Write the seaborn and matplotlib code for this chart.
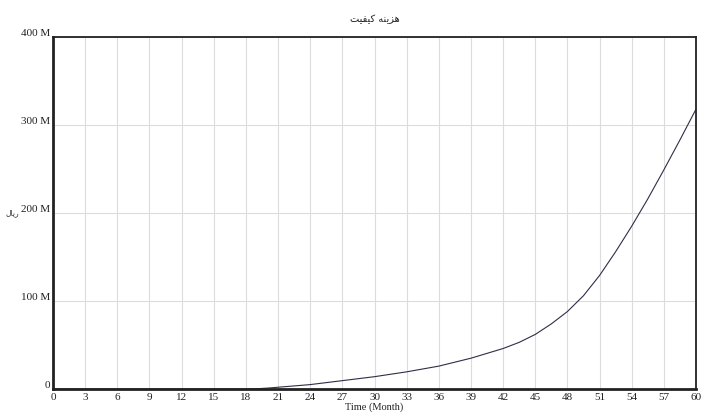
import matplotlib
matplotlib.use("Agg")
import matplotlib.pyplot as plt
import matplotlib.transforms as mtransforms
import seaborn as sns
import pandas as pd

# Simulation output: cost of quality (Rial) over time (months)
months = [0, 3, 6, 9, 12, 15, 18, 19, 20, 21, 24, 27, 30, 33, 36, 39, 42, 43.5, 45,
          46.5, 48, 49.5, 51, 52.5, 54, 55.5, 57, 58.5, 60]
cost_millions = [0, 0, 0, 0, 0, 0, 0, 0.3, 1, 2, 5, 9.5, 14, 19.5, 26, 35, 46, 53, 62,
                 74, 88, 106, 129, 156, 185, 216, 249, 283, 318]

x_ticks = list(range(0, 61, 3))
y_ticks = [0, 100, 200, 300, 400]
y_tick_labels = ["0", "100 M", "200 M", "300 M", "400 M"]

# Persian title / unit in presentation forms (visual order) so they render joined
title_text = "\uFE96\uFEF4\uFED4\uFEF4\uFB90 \uFEEA\uFEE8\uFEF3\uFEB0\uFEEB"
unit_text = "\uFEDD\uFE8E\uFEF3\uFEAD"
x_label = "Time (Month)"

df = pd.DataFrame({"month": months, "cost": [v * 1e6 for v in cost_millions]})

sns.set_theme(style="white")
plt.rcParams["font.family"] = ["Liberation Serif", "DejaVu Sans"]

fig = plt.figure(figsize=(7.03, 4.16), dpi=100)
ax = fig.add_axes([53 / 703, 1 - 389 / 416, (696 - 53) / 703, (389 - 37) / 416])

sns.lineplot(data=df, x="month", y="cost", ax=ax, color="#2e2e48", linewidth=0.8)

ax.set_xlim(0, 60)
ax.set_ylim(0, 400e6)
ax.set_xticks(x_ticks)
ax.set_xticklabels([str(t) for t in x_ticks], fontsize=8)
ax.set_yticks([v * 1e6 for v in y_ticks])
ax.set_yticklabels(y_tick_labels, fontsize=8)
ax.tick_params(axis="both", length=0, pad=3, colors="#222222")
ax.tick_params(axis="y", pad=2)

# lift y labels slightly above their gridlines
offset = mtransforms.ScaledTranslation(0, 4 / 100, fig.dpi_scale_trans)
for lbl in ax.get_yticklabels():
    lbl.set_transform(lbl.get_transform() + offset)

ax.grid(True, color="#dcdcdc", linewidth=0.8)
ax.set_axisbelow(True)

for side, lw in [("left", 2.0), ("bottom", 2.0), ("top", 1.3), ("right", 1.3)]:
    ax.spines[side].set_visible(True)
    ax.spines[side].set_color("#222222")
    ax.spines[side].set_linewidth(lw)

ax.set_xlabel(x_label, fontsize=7.5, labelpad=0, color="#222222")
ax.set_ylabel("")
fig.text(12 / 703, 1 - 213 / 416, unit_text, fontsize=5.5, ha="center", va="center",
         family=["DejaVu Sans"], color="#333333")
ax.set_title(title_text, fontsize=7, pad=11, family=["DejaVu Sans"], color="#222222")

fig.savefig("out.png", dpi=100, facecolor="white")
